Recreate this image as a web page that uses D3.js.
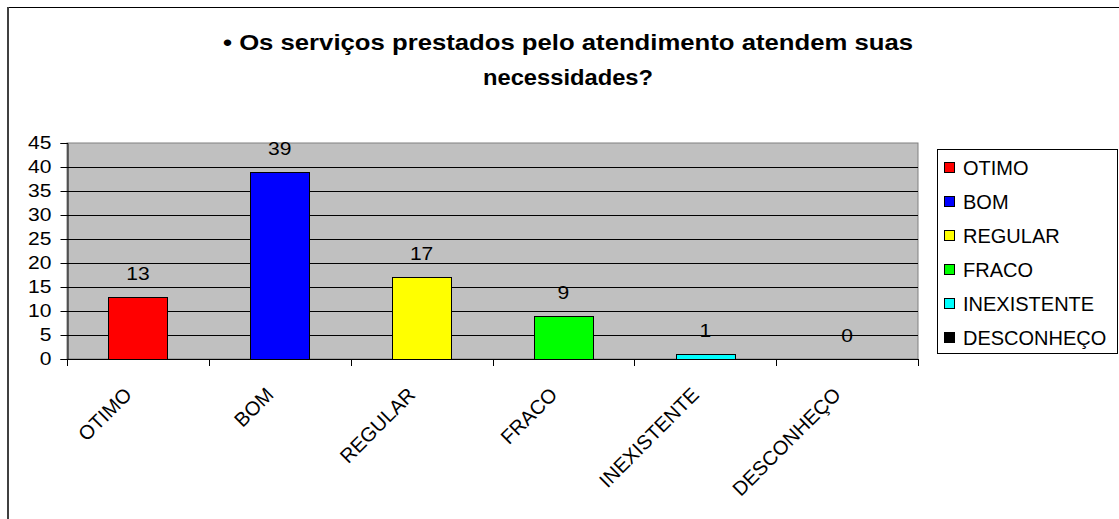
<!DOCTYPE html>
<html><head><meta charset="utf-8">
<script src="https://cdn.jsdelivr.net/npm/d3@7"></script>
<style>body{margin:0;background:#fff}svg{display:block}text{font-family:"Liberation Sans",Arial,sans-serif}</style>
</head><body>
<svg id="c" width="1119" height="519"></svg>
<script>
const categories = ["OTIMO","BOM","REGULAR","FRACO","INEXISTENTE","DESCONHEÇO"];
const values = [13,39,17,9,1,0];
const colors = ["#FF0000","#0000FF","#FFFF00","#00FF00","#00FFFF","#000000"];
const yTicks = [0,5,10,15,20,25,30,35,40,45];
const titleLines = ["• Os serviços prestados pelo atendimento atendem suas","necessidades?"];
const titleWidths = [690,170];

const svg = d3.select("#c");
// outer frame
svg.append("line").attr("x1",7).attr("x2",1119).attr("y1",7.5).attr("y2",7.5).attr("stroke","#000").attr("stroke-width",1);
svg.append("line").attr("x1",8).attr("x2",8).attr("y1",7).attr("y2",519).attr("stroke","#404040").attr("stroke-width",2);

const L=67, R=918, T=143, B=359;
const inner = 0.584;
const x = d3.scaleBand().domain(categories).range([L,R]).paddingInner(inner).paddingOuter(inner/2);
const y = d3.scaleLinear().domain([0,45]).range([B,T]);
const SX = 1.17;

// plot area
svg.append("rect").attr("x",L).attr("y",T).attr("width",R-L).attr("height",B-T).attr("fill","#C0C0C0").attr("stroke","#808080");
// gridlines
svg.selectAll("line.grid").data(yTicks.filter(d=>d>0 && d<45)).join("line").attr("class","grid")
  .attr("x1",L).attr("x2",R).attr("y1",d=>Math.round(y(d))+0.5).attr("y2",d=>Math.round(y(d))+0.5).attr("stroke","#000");

// y axis
const yAxis = svg.append("g").attr("transform",`translate(${L+0.5},0)`)
  .call(d3.axisLeft(y).tickValues(yTicks).tickSize(7).tickPadding(9));
yAxis.select(".domain").attr("stroke","#000");
yAxis.selectAll(".tick line").attr("stroke","#000");
yAxis.selectAll("text").attr("font-size",18).attr("fill","#000").attr("font-family","Liberation Sans, Arial, sans-serif")
  .attr("x",-16/SX).attr("transform",`scale(${SX},1)`);

// x axis line and boundary ticks
svg.append("line").attr("x1",L).attr("x2",R).attr("y1",B+0.5).attr("y2",B+0.5).attr("stroke","#000");
const bounds = categories.map(c=>x(c)-x.step()*inner/2).concat([x(categories[categories.length-1])+x.bandwidth()+x.step()*inner/2]);
svg.selectAll("line.xt").data(bounds).join("line").attr("class","xt")
  .attr("x1",d=>Math.round(d)+0.5).attr("x2",d=>Math.round(d)+0.5).attr("y1",B).attr("y2",B+7).attr("stroke","#000");

// bars
const data = categories.map((c,i)=>({c,v:values[i],col:colors[i]}));
svg.selectAll("rect.bar").data(data).join("rect").attr("class","bar")
  .attr("x",d=>Math.round(x(d.c))+0.5).attr("y",d=>Math.round(y(d.v))+0.5)
  .attr("width",x.bandwidth()).attr("height",d=>Math.max(0,B-Math.round(y(d.v))))
  .attr("fill",d=>d.col).attr("stroke","#000").attr("stroke-width",1)
  .attr("display",d=>d.v>0?null:"none");

// data labels
svg.selectAll("text.dl").data(data).join("text").attr("class","dl")
  .attr("transform",d=>`translate(${x(d.c)+x.bandwidth()/2},${y(d.v)-17}) scale(${SX},1)`)
  .attr("text-anchor","middle").attr("font-size",18).attr("fill","#000").text(d=>d.v);

// x labels
svg.selectAll("text.xl").data(categories).join("text").attr("class","xl")
  .attr("transform",d=>`translate(${x(d)+x.bandwidth()/2-5},396) rotate(-45)`)
  .attr("text-anchor","end").attr("font-size",20).attr("fill","#000").text(d=>d);

// title
svg.selectAll("text.title").data(titleLines).join("text").attr("class","title")
  .attr("x",568).attr("y",(d,i)=>50+i*35).attr("text-anchor","middle")
  .attr("textLength",(d,i)=>titleWidths[i]).attr("lengthAdjust","spacingAndGlyphs")
  .attr("font-size",22).attr("font-weight","bold").attr("fill","#000").text(d=>d);

// legend
const lg = svg.append("g");
lg.append("rect").attr("x",937.5).attr("y",149.5).attr("width",180).attr("height",204).attr("fill","#fff").attr("stroke","#000");
const ly = d3.scalePoint().domain(categories).range([167,337]);
lg.selectAll("rect.sw").data(data).join("rect").attr("class","sw")
  .attr("x",944.5).attr("y",d=>Math.round(ly(d.c))-4.5).attr("width",10).attr("height",10)
  .attr("fill",d=>d.col).attr("stroke","#000");
lg.selectAll("text.lt").data(categories).join("text").attr("class","lt")
  .attr("x",963).attr("y",d=>ly(d)+7.5).attr("font-size",20).attr("fill","#000").text(d=>d);
</script>
</body></html>
